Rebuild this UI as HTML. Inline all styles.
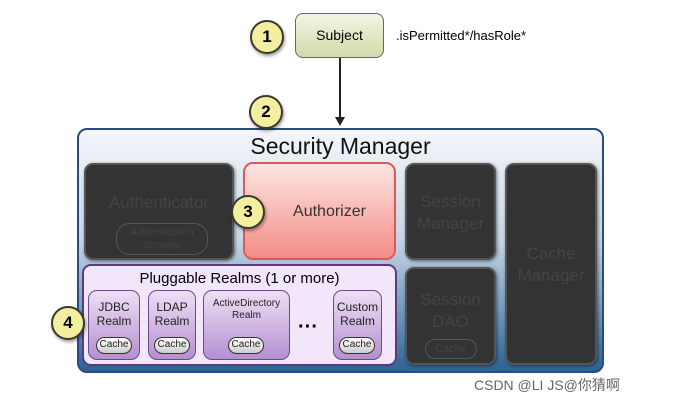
<html><head><style>
body{margin:0;width:676px;height:401px;background:#fff;font-family:"Liberation Sans","Noto Sans CJK SC",sans-serif;position:relative;overflow:hidden}
div{position:absolute;box-sizing:border-box}
.c{border-radius:50%;background:#f4efa0;border:2px solid #3a3a2a;text-align:center;font-weight:bold;font-size:17px;box-shadow:1px 2px 3px rgba(0,0,0,.4)}
.dk{background:#333;border-radius:9px;border:2px solid #555;color:#444;text-align:center;font-size:17px;box-shadow:1px 1px 3px rgba(0,0,0,.5)}
.r{background:linear-gradient(#eddff5,#b58fd0);border:1.5px solid #6a4a88;border-radius:9px;text-align:center;font-size:12px;line-height:14px;color:#222}
.ca{border:1.5px solid #333;border-radius:10px;background:linear-gradient(#fff,#ccc);font-size:10px;line-height:14px;width:36px;height:17px;color:#222}
</style></head><body>
<div class="c" style="left:250px;top:20px;width:34px;height:34px;line-height:30px">1</div>
<div style="left:295px;top:13px;width:89px;height:45px;border:1.5px solid #666;border-radius:8px;background:linear-gradient(#f2f6e2,#cfdcaa);text-align:center;line-height:43px;font-size:14px">Subject</div>
<div style="left:396px;top:28px;font-size:13px">.isPermitted*/hasRole*</div>
<div style="left:339px;top:58px;width:1.5px;height:62px;background:#222"></div>
<div style="left:335px;top:117px;width:0;height:0;border-left:5px solid transparent;border-right:5px solid transparent;border-top:9px solid #222"></div>
<div style="left:77px;top:128px;width:527px;height:245px;border:2.5px solid #2a4b8a;border-radius:10px;background:linear-gradient(#f4f6fa 0%,#c8d6e4 45%,#5f8bb2 82%,#2f6292 100%)"></div>
<div class="c" style="left:249px;top:95px;width:34px;height:34px;line-height:30px">2</div>
<div style="left:77px;top:133px;width:527px;text-align:center;font-size:23px;color:#111">Security Manager</div>
<div class="dk" style="left:84px;top:163px;width:150px;height:97px;padding-top:28px">Authenticator
<div style="left:30px;top:58px;width:92px;height:32px;border:1px solid #555;border-radius:14px;font-size:10px;line-height:13px;padding-top:2px">Authentication Strategy</div></div>
<div style="left:243px;top:162px;width:153px;height:98px;border:2px solid #d85a5a;border-radius:10px;background:linear-gradient(#fde6e2,#f48c86);text-align:center;line-height:96px;font-size:16px;color:#333;padding-left:20px">Authorizer</div>
<div class="c" style="left:231px;top:195px;width:34px;height:34px;line-height:30px">3</div>
<div class="dk" style="left:405px;top:163px;width:91px;height:97px;padding-top:26px;line-height:22px">Session Manager</div>
<div class="dk" style="left:505px;top:163px;width:92px;height:202px;padding-top:78px;line-height:22px">Cache Manager</div>
<div class="dk" style="left:405px;top:267px;width:91px;height:98px;padding-top:20px;line-height:22px">Session DAO
<div style="left:18px;top:70px;width:52px;height:20px;border:1px solid #555;border-radius:10px;font-size:11px;line-height:18px">Cache</div></div>
<div style="left:82px;top:264px;width:315px;height:102px;border:2px solid #5a3a80;border-radius:9px;background:#f1e6fa;text-align:center;font-size:15px;padding-top:4px">Pluggable Realms (1 or more)</div>
<div class="r" style="left:88px;top:290px;width:52px;height:70px;padding-top:9px">JDBC<br>Realm<div class="ca" style="left:7px;top:46px">Cache</div></div>
<div class="r" style="left:148px;top:290px;width:48px;height:70px;padding-top:9px">LDAP<br>Realm<div class="ca" style="left:5px;top:46px">Cache</div></div>
<div class="r" style="left:203px;top:290px;width:87px;height:70px;padding-top:7px;font-size:10px;line-height:12px">ActiveDirectory<br>Realm<div class="ca" style="left:24px;top:46px">Cache</div></div>
<div style="left:298px;top:316px;font-size:20px;font-weight:bold">&middot;&middot;&middot;</div>
<div class="r" style="left:333px;top:290px;width:49px;height:70px;padding-top:9px">Custom<br>Realm<div class="ca" style="left:5px;top:46px">Cache</div></div>
<div class="c" style="left:51px;top:306px;width:34px;height:34px;line-height:30px">4</div>
<div style="left:474px;top:375px;font-size:14px;color:#666">CSDN @LI JS@你猜啊</div>
</body></html>
